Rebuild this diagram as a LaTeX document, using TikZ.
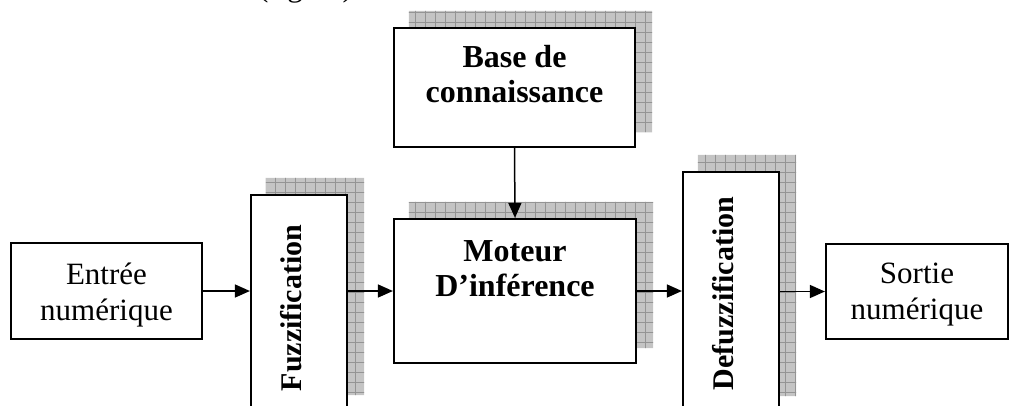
\documentclass[tikz,border=0pt]{standalone}
\usepackage{fontspec}
\setmainfont{Liberation Serif}
\usetikzlibrary{arrows.meta,calc,backgrounds}
\begin{document}
\begin{tikzpicture}[x=1pt,y=-1pt,
  blockbox/.style={draw, line width=2.2pt, fill=white, rectangle, inner sep=0pt},
  flow/.style={line width=1.5pt, -{Triangle[length=15pt,width=13pt]}},
  plaintext/.style={font=\fontsize{31}{36}\selectfont, align=center, inner sep=0pt},
  boldtext/.style={font=\fontsize{32}{35}\selectfont\bfseries, align=center, inner sep=0pt},
  sidetext/.style={font=\fontsize{30}{34}\selectfont\bfseries, rotate=90, inner sep=0pt},
  shadefill/.style={fill=black!23},
  gridline/.style={draw=black!42, line width=0.8pt}]
\useasboundingbox (0,0) rectangle (1009,405);
\clip (0,0) rectangle (1009,405);

% tail of the preceding line of text
\node[plaintext, anchor=base west] (figref) at (258,-4) {(figure)};

% blocks
\node[blockbox, minimum width=191pt, minimum height=96pt]  (entree) at (106.5,291) {};
\node[blockbox, minimum width=96pt,  minimum height=215pt] (fuzz)   at (299,302.5) {};
\node[blockbox, minimum width=242pt, minimum height=144pt] (moteur) at (515,291) {};
\node[blockbox, minimum width=241pt, minimum height=119pt] (base)   at (514.5,87.5) {};
\node[blockbox, minimum width=96pt,  minimum height=239pt] (defuzz) at (731,291.5) {};
\node[blockbox, minimum width=182pt, minimum height=95pt]  (sortie) at (917,291.5) {};

% block labels
\node[plaintext] (entreetxt) at (106.5,295) {Entrée\\numérique};
\node[plaintext] (sortietxt) at (917,294.5) {Sortie\\numérique};
\node[boldtext]  (basetxt)   at (514.5,74)  {Base de\\connaissance};
\node[boldtext]  (moteurtxt) at (515,269)   {Moteur\\D’inférence};
\node[sidetext]  (fuzztxt)   at (291,308)   {Fuzzification};
\node[sidetext]  (defuzztxt) at (723.5,293.5) {Defuzzification};

% hatched drop shadows behind the processing blocks
\begin{pgfonlayer}{background}
  \begin{scope}
    \clip ($(base.south west)+(16,-16)$)   rectangle ($(base.north east)+(16,-16)$)
          ($(moteur.south west)+(16,-16)$) rectangle ($(moteur.north east)+(16,-16)$)
          ($(fuzz.south west)+(16,-16)$)   rectangle ($(fuzz.north east)+(16,-16)$)
          ($(defuzz.south west)+(16,-16)$) rectangle ($(defuzz.north east)+(16,-16)$);
    \fill[shadefill] (0,0) rectangle (1009,405);
    \foreach \gx in {5,15,...,1005} \draw[gridline] (\gx,0) -- (\gx,405);
    \foreach \gy in {2,12,...,402} \draw[gridline] (0,\gy) -- (1009,\gy);
  \end{scope}
\end{pgfonlayer}

% signal flow
\draw[flow] (entree.east) -- (entree.east -| fuzz.west);
\draw[flow] (fuzz.east |- moteur.west) -- (moteur.west);
\draw[flow] (base.south) -- (moteur.north);
\draw[flow] (moteur.east) -- (moteur.east -| defuzz.west);
\draw[flow] (defuzz.east |- sortie.west) -- (sortie.west);
\end{tikzpicture}
\end{document}
